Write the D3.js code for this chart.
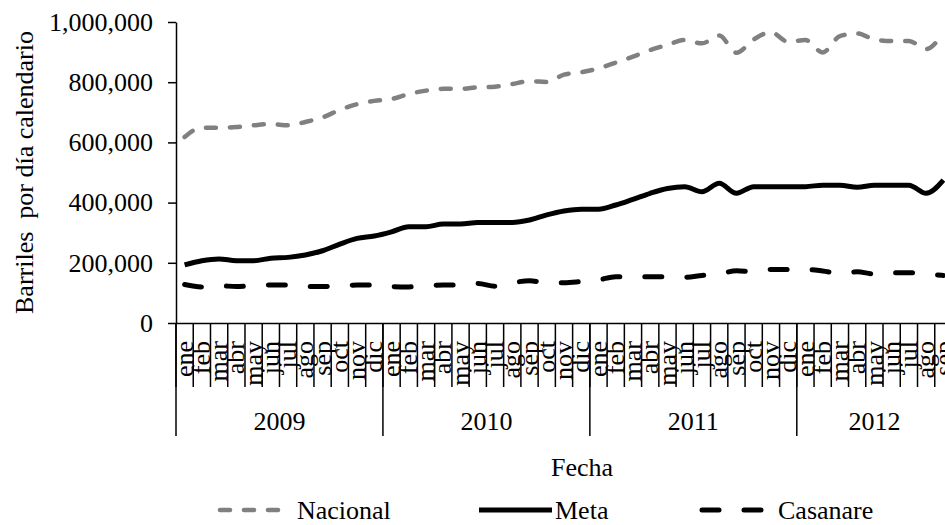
<!DOCTYPE html>
<html>
<head>
<meta charset="utf-8">
<script src="https://cdn.jsdelivr.net/npm/d3@7"></script>
<style>
  body { margin: 0; background: #fff; }
  svg { display: block; font-family: "Liberation Serif", "Times New Roman", serif; }
</style>
</head>
<body>
<svg id="chart" width="945" height="525"></svg>
<script>
// meses ene 2009 - sep 2012
const meses = [
  "ene", "feb", "mar", "abr", "may", "jun", "jul", "ago", "sep", "oct", "nov", "dic",
  "ene", "feb", "mar", "abr", "may", "jun", "jul", "ago", "sep", "oct", "nov", "dic",
  "ene", "feb", "mar", "abr", "may", "jun", "jul", "ago", "sep", "oct", "nov", "dic",
  "ene", "feb", "mar", "abr", "may", "jun", "jul", "ago", "sep"
];
const anios = ["2009", "2010", "2011", "2012"];
const mesesPorAnio = [12, 12, 12, 9];

const nacional = [
  618000, 649000, 649000, 651000, 657000, 661000, 657000, 668000, 683000, 708000, 727000, 738000,
  744000, 761000, 772000, 778000, 778000, 783000, 785000, 794000, 803000, 801000, 825000, 833000,
  846000, 865000, 885000, 907000, 924000, 940000, 929000, 955000, 898000, 942000, 966000, 934000,
  940000, 899000, 953000, 962000, 942000, 937000, 937000, 910000, 965000
];
const meta = [
  193000, 207000, 213000, 207000, 207000, 215000, 218000, 226000, 240000, 262000, 281000, 289000,
  303000, 320000, 320000, 329000, 329000, 334000, 334000, 334000, 342000, 359000, 372000, 378000,
  378000, 392000, 411000, 431000, 447000, 453000, 436000, 464000, 431000, 453000, 453000, 453000,
  453000, 458000, 458000, 451000, 458000, 458000, 458000, 431000, 475000
];
const casanare = [
  128000, 120000, 124000, 121000, 124000, 126000, 126000, 121000, 121000, 124000, 126000, 126000,
  121000, 120000, 124000, 126000, 126000, 131000, 122000, 134000, 140000, 134000, 134000, 138000,
  143000, 154000, 154000, 154000, 154000, 152000, 158000, 163000, 174000, 170000, 178000, 178000,
  178000, 173000, 165000, 170000, 163000, 167000, 167000, 163000, 158000
];
const yTicks = [0, 200000, 400000, 600000, 800000, 1000000];

const FONT = '"Liberation Serif", "Times New Roman", serif';
const svg = d3.select("#chart");

const x = d3.scaleBand()
  .domain(d3.range(meses.length))
  .range([176, 952])
  .padding(0);

const y = d3.scaleLinear()
  .domain([0, 1000000])
  .range([323, 22]);

const bw = x.bandwidth();
const bandEnd = (i) => (i < meses.length ? x(i) : x(meses.length - 1) + bw);

// eje Y
svg.append("g")
  .attr("transform", `translate(${x.range()[0]},0)`)
  .call(d3.axisLeft(y).tickValues(yTicks).tickFormat(d3.format(",")).tickSize(8).tickPadding(15).tickSizeOuter(0))
  .attr("font-size", 26)
  .attr("font-family", FONT)
  .call((g) => g.selectAll("line, path").attr("stroke", "#000").attr("stroke-width", 1.5))
  .call((g) => g.selectAll("text").attr("fill", "#000"));

// eje X: etiquetas de mes
svg.append("g")
  .attr("transform", `translate(0,${y(0)})`)
  .call(d3.axisBottom(x).tickSize(0).tickSizeOuter(0).tickFormat((i) => meses[i]))
  .attr("font-size", 26)
  .attr("font-family", FONT)
  .call((g) => g.select(".domain").attr("stroke", "#000").attr("stroke-width", 1.5))
  .call((g) => g.selectAll("text")
    .attr("fill", "#000")
    .attr("y", null)
    .attr("dy", null)
    .attr("text-anchor", "end")
    .attr("transform", `translate(${bw / 2 - 0.5},18) rotate(-90)`));

// marcas entre meses
svg.append("g")
  .selectAll("line")
  .data(d3.range(meses.length + 1))
  .join("line")
  .attr("x1", (i) => bandEnd(i))
  .attr("x2", (i) => bandEnd(i))
  .attr("y1", y(0))
  .attr("y2", y(0) + 64)
  .attr("stroke", "#000")
  .attr("stroke-width", 1.5);

// separadores y etiquetas de año
const inicios = d3.cumsum([0, ...mesesPorAnio]);
svg.append("g")
  .selectAll("line")
  .data(inicios)
  .join("line")
  .attr("x1", (i) => bandEnd(i))
  .attr("x2", (i) => bandEnd(i))
  .attr("y1", y(0))
  .attr("y2", y(0) + 113)
  .attr("stroke", "#000")
  .attr("stroke-width", 1.5);

svg.append("g")
  .selectAll("text")
  .data(anios)
  .join("text")
  .attr("x", (d, k) => (bandEnd(inicios[k]) + bandEnd(inicios[k + 1])) / 2)
  .attr("y", 430)
  .attr("text-anchor", "middle")
  .attr("font-size", 26)
  .attr("font-family", FONT)
  .text((d) => d);

// títulos de ejes
svg.append("text")
  .attr("transform", `translate(33,${(y.range()[0] + y.range()[1]) / 2}) rotate(-90)`)
  .attr("text-anchor", "middle")
  .attr("font-size", 26)
  .attr("font-family", FONT)
  .style("white-space", "pre")
  .text("Barriles  por día calendario");

svg.append("text")
  .attr("x", 582)
  .attr("y", 476)
  .attr("text-anchor", "middle")
  .attr("font-size", 26)
  .attr("font-family", FONT)
  .text("Fecha");

// series
const series = [
  { nombre: "Nacional", valores: nacional, color: "#808080", ancho: 4.5, trazo: "10,14" },
  { nombre: "Meta", valores: meta, color: "#000", ancho: 5, trazo: null },
  { nombre: "Casanare", valores: casanare, color: "#000", ancho: 5, trazo: "17,25" }
];

const line = d3.line()
  .x((d, i) => x(i) + bw / 2)
  .y((d) => y(d))
  .curve(d3.curveMonotoneX);

svg.append("g")
  .selectAll("path")
  .data(series)
  .join("path")
  .attr("d", (s) => line(s.valores))
  .attr("fill", "none")
  .attr("stroke", (s) => s.color)
  .attr("stroke-width", (s) => s.ancho)
  .attr("stroke-dasharray", (s) => s.trazo)
  .attr("stroke-linecap", (s) => (s.trazo ? "round" : "butt"))
  .attr("stroke-linejoin", "round");

// leyenda
const leyendaPos = [
  { x1: 220, x2: 282, tx: 297 },
  { x1: 479, x2: 552, tx: 555 },
  { x1: 702, x2: 764, tx: 778 }
];
const leyenda = svg.append("g")
  .selectAll("g")
  .data(series)
  .join("g");

leyenda.append("line")
  .attr("x1", (s, i) => leyendaPos[i].x1)
  .attr("x2", (s, i) => leyendaPos[i].x2)
  .attr("y1", 510)
  .attr("y2", 510)
  .attr("stroke", (s) => s.color)
  .attr("stroke-width", (s) => s.ancho)
  .attr("stroke-dasharray", (s) => s.trazo)
  .attr("stroke-linecap", (s) => (s.trazo ? "round" : "butt"));

leyenda.append("text")
  .attr("x", (s, i) => leyendaPos[i].tx)
  .attr("y", 519)
  .attr("font-size", 26)
  .attr("font-family", FONT)
  .text((s) => s.nombre);
</script>
</body>
</html>
